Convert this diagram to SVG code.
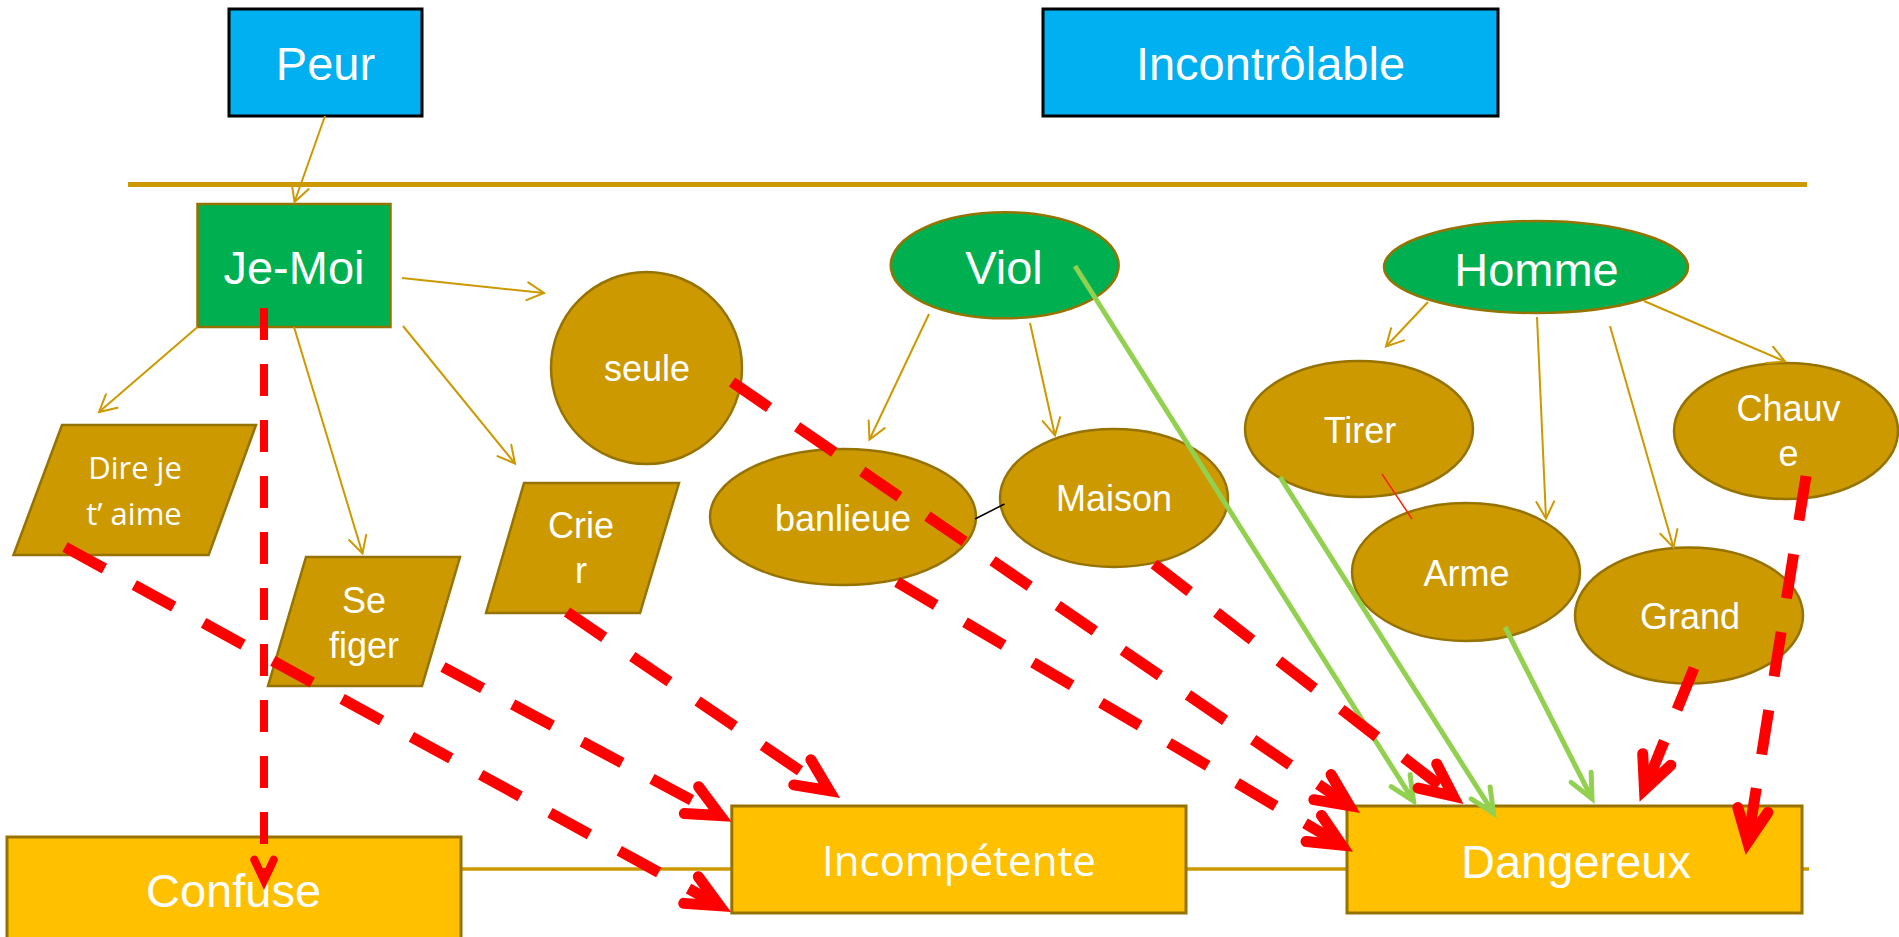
<svg xmlns="http://www.w3.org/2000/svg" width="1899" height="937" viewBox="0 0 1899 937">
<style>
.lbl{font-family:"Liberation Sans",Arial,sans-serif;fill:#FFFFFF;text-anchor:middle}
.cal{font-family:"Open Sans","Liberation Sans",sans-serif;fill:#FFFFFF;text-anchor:middle}
.big{font-size:47px}
.mid{font-size:36px}
.blue{fill:#00B0F0;stroke:#000000;stroke-width:3}
.green{fill:#00B050;stroke:#967300;stroke-width:2.5}
.gold{fill:#CC9900;stroke:#967300;stroke-width:2.5}
.yel{fill:#FFC000;stroke:#967300;stroke-width:3}
.ga{fill:none;stroke:#CC9900;stroke-width:2;marker-end:url(#mg)}
.gr{fill:none;stroke:#92D050;stroke-width:5;marker-end:url(#mgr)}
.rd{fill:none;stroke:#FF0000;stroke-width:11;stroke-dasharray:45 34;marker-end:url(#mr)}
.rule{stroke:#CC9900;fill:none}
</style>
<defs>
<marker id="mg" markerUnits="userSpaceOnUse" orient="auto" overflow="visible" markerWidth="1" markerHeight="1" refX="0" refY="0">
<path d="M-16.8,-8.9 L0,0 L-16.8,8.9" fill="none" stroke="#CC9900" stroke-width="2" stroke-linecap="round"/>
</marker>
<marker id="mgr" markerUnits="userSpaceOnUse" orient="auto" overflow="visible" markerWidth="1" markerHeight="1" refX="0" refY="0">
<path d="M-24,-11.2 L0,0 L-24,11.2" fill="none" stroke="#92D050" stroke-width="5" stroke-linecap="round" stroke-linejoin="miter"/>
</marker>
<marker id="mr" markerUnits="userSpaceOnUse" orient="auto" overflow="visible" markerWidth="1" markerHeight="1" refX="0" refY="0">
<path d="M-32.6,-15.2 L0,0 L-32.6,15.2" fill="none" stroke="#FF0000" stroke-width="11" stroke-linecap="round" stroke-linejoin="miter"/>
</marker>
<marker id="mrs" markerUnits="userSpaceOnUse" orient="auto" overflow="visible" markerWidth="1" markerHeight="1" refX="0" refY="0">
<path d="M-20.8,-9.7 L0,0 L-20.8,9.7" fill="none" stroke="#FF0000" stroke-width="8" stroke-linecap="round" stroke-linejoin="miter"/>
</marker>
</defs>

<g id="rules">
<line class="rule" x1="128" y1="184.5" x2="1807" y2="184.5" stroke-width="5"/>
<line class="rule" x1="461" y1="869" x2="1809" y2="869" stroke-width="3.5"/>
</g>

<g id="node-peur">
<rect class="blue" x="229" y="9" width="193" height="107"/>
<text class="lbl big" x="325.5" y="80">Peur</text>
</g>
<g id="node-incontrolable">
<rect class="blue" x="1043" y="9" width="455" height="107"/>
<text class="lbl big" x="1270.5" y="80">Incontrôlable</text>
</g>
<g id="node-jemoi">
<rect class="green" x="197.5" y="204" width="193" height="123"/>
<text class="lbl big" x="294" y="284">Je-Moi</text>
</g>
<g id="node-viol">
<ellipse class="green" cx="1004.7" cy="265.3" rx="114" ry="53"/>
<text class="lbl big" x="1004" y="284">Viol</text>
</g>
<g id="node-homme">
<ellipse class="green" cx="1536" cy="267" rx="152" ry="46"/>
<text class="lbl big" x="1536.5" y="286">Homme</text>
</g>
<g id="node-dire">
<polygon class="gold" points="62,425 256,425 208.6,555 13.5,555"/>
<text class="cal" font-size="31" x="135" y="479">Dire je</text>
<text class="cal" font-size="31" x="134" y="525">t’ aime</text>
</g>
<g id="node-sefiger">
<polygon class="gold" points="306,557 460,557 422,686 268,686"/>
<text class="lbl mid" x="364" y="613">Se</text>
<text class="lbl mid" x="364" y="658">figer</text>
</g>
<g id="node-crier">
<polygon class="gold" points="524,483 679,483 640,613 486,613"/>
<text class="lbl mid" x="581" y="538">Crie</text>
<text class="lbl mid" x="581" y="583">r</text>
</g>
<g id="node-seule">
<ellipse class="gold" cx="646.5" cy="368" rx="95.5" ry="96"/>
<text class="lbl mid" x="647" y="381">seule</text>
</g>
<g id="node-banlieue">
<ellipse class="gold" cx="843" cy="517" rx="133" ry="68"/>
<text class="lbl mid" x="843" y="531">banlieue</text>
</g>
<g id="node-maison">
<ellipse class="gold" cx="1114" cy="498" rx="114" ry="69"/>
<text class="lbl mid" x="1114" y="511">Maison</text>
</g>
<g id="node-tirer">
<ellipse class="gold" cx="1359" cy="429" rx="114" ry="68"/>
<text class="lbl mid" x="1360" y="443">Tirer</text>
</g>
<g id="node-arme">
<ellipse class="gold" cx="1466" cy="572" rx="114" ry="69"/>
<text class="lbl mid" x="1466.5" y="586">Arme</text>
</g>
<g id="node-grand">
<ellipse class="gold" cx="1689" cy="615.5" rx="114" ry="68"/>
<text class="lbl mid" x="1690" y="629">Grand</text>
</g>
<g id="node-chauve">
<ellipse class="gold" cx="1786" cy="431" rx="112" ry="68"/>
<text class="lbl mid" x="1788.5" y="421">Chauv</text>
<text class="lbl mid" x="1788.5" y="466">e</text>
</g>
<g id="node-confuse">
<rect class="yel" x="7" y="837" width="454" height="110"/>
<text class="lbl big" x="233.5" y="907">Confuse</text>
</g>
<g id="node-incompetente">
<rect class="yel" x="731.8" y="806" width="454.2" height="107"/>
<text class="cal" font-size="42" x="959" y="876">Incompétente</text>
</g>
<g id="node-dangereux">
<rect class="yel" x="1347" y="806" width="455" height="107"/>
<text class="lbl big" x="1576" y="878">Dangereux</text>
</g>

<g id="connectors">
<line class="ga" x1="325" y1="116" x2="294.5" y2="202"/>
<line class="ga" x1="402" y1="278" x2="544" y2="293"/>
<line class="ga" x1="197.5" y1="327" x2="99" y2="412"/>
<line class="ga" x1="294" y1="327" x2="362.5" y2="553.5"/>
<line class="ga" x1="403" y1="326" x2="515" y2="463.5"/>
<line class="ga" x1="929" y1="314" x2="869.5" y2="439.5"/>
<line class="ga" x1="1030" y1="323" x2="1055" y2="435.5"/>
<line class="ga" x1="1428" y1="302" x2="1386" y2="346.5"/>
<line class="ga" x1="1537" y1="317" x2="1546" y2="518.5"/>
<line class="ga" x1="1610" y1="326" x2="1673.5" y2="547.5"/>
<line class="ga" x1="1644" y1="301" x2="1785" y2="361.5"/>
<line x1="975" y1="519" x2="1004.5" y2="504" stroke="#000000" stroke-width="1.5"/>
<line x1="1382" y1="474" x2="1412" y2="519" stroke="#FF2000" stroke-width="1.5"/>

<line class="gr" x1="1075" y1="266" x2="1413.5" y2="800.9"/>
<line class="gr" x1="1280" y1="477" x2="1493.5" y2="813.2"/>
<line class="gr" x1="1505" y1="627" x2="1592" y2="798.7"/>

<line x1="264" y1="308" x2="264" y2="880.5" fill="none" stroke="#FF0000" stroke-width="8" stroke-dasharray="32 24" marker-end="url(#mrs)"/>
<line class="rd" x1="65" y1="547" x2="719.6" y2="905.7"/>
<line class="rd" x1="443" y1="667" x2="720.2" y2="815.5"/>
<line class="rd" x1="567" y1="612" x2="829.3" y2="790.7"/>
<line class="rd" x1="732" y1="382" x2="1349.3" y2="805.6"/>
<line class="rd" x1="897" y1="582" x2="1341.8" y2="845.1"/>
<line class="rd" x1="1154" y1="564" x2="1453.2" y2="796"/>
<line class="rd" x1="1694" y1="668" x2="1644.5" y2="789.6"/>
<line class="rd" x1="1806" y1="476" x2="1747.7" y2="842.2"/>
</g>
</svg>
